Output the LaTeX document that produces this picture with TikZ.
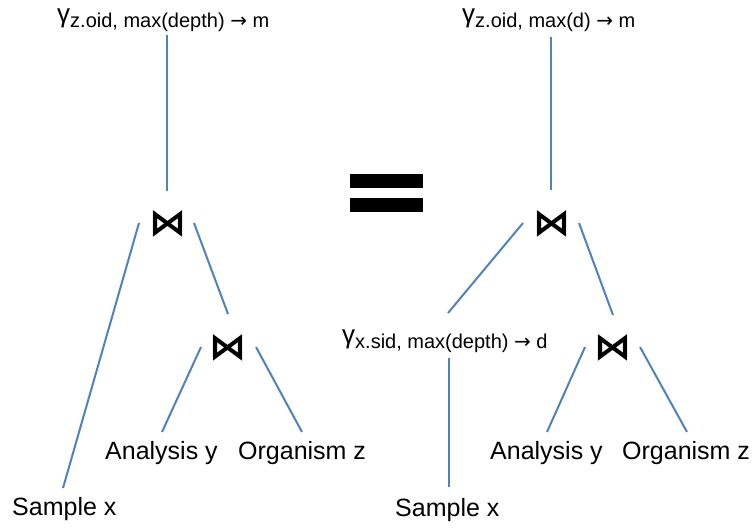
\documentclass[tikz,border=0pt]{standalone}
\usepackage{fontspec}
\setmainfont{Liberation Sans}
\newfontfamily\symfont{DejaVu Sans}
\newcommand{\rarr}{{\symfont →}}
\begin{document}
\begin{tikzpicture}[x=1pt,y=-1pt,
  edge/.style={draw={rgb,255:red,79;green,129;blue,189},line width=2pt},
  leaf/.style={anchor=base west,inner sep=0pt,font=\fontsize{25}{30}\selectfont},
  gam/.style={anchor=base west,inner sep=0pt},
  joinop/.style={inner sep=0pt,font=\symfont\bfseries\fontsize{37}{37}\selectfont}]
\useasboundingbox (0,0) rectangle (754,527);
% labels
\node[gam] (gL) at (57,23) {{\fontsize{26}{28}\selectfont γ}\raisebox{-5pt}{\fontsize{20}{24}\selectfont z.oid, max(depth) \rarr\ m}};
\node[gam] (gR) at (462,23) {{\fontsize{26}{28}\selectfont γ}\raisebox{-5pt}{\fontsize{20}{24}\selectfont z.oid, max(d) \rarr\ m}};
\node[gam] (gX) at (342,343) {{\fontsize{26}{28}\selectfont γ}\raisebox{-5pt}{\fontsize{20}{24}\selectfont x.sid, max(depth) \rarr\ d}};
% joins
\node[joinop] (b1) at (167.5,223.5) {⋈};
\node[joinop] (b2) at (228,348) {⋈};
\node[joinop] (b3) at (551.5,224) {⋈};
\node[joinop] (b4) at (612.5,348) {⋈};
% leaves
\node[leaf] (sL) at (12,515) {Sample x};
\node[leaf] (aL) at (105,459) {Analysis y};
\node[leaf] (oL) at (238,459) {Organism z};
\node[leaf] (sR) at (395,516) {Sample x};
\node[leaf] (aR) at (490,459) {Analysis y};
\node[leaf] (oR) at (622,459) {Organism z};
% equals
\fill (350,174) rectangle (423,188);
\fill (350,198) rectangle (423,212);
% connector ends
\coordinate (gLb) at (167,35);  \coordinate (b1t) at (167,191);
\coordinate (b1l) at (139,223); \coordinate (sLt) at (63,488);
\coordinate (b1r) at (194,223); \coordinate (b2t) at (228,314);
\coordinate (b2l) at (201,347); \coordinate (aLt) at (162,432);
\coordinate (b2r) at (256,347); \coordinate (oLt) at (302,432);
\coordinate (gRb) at (551,37);  \coordinate (b3t) at (551,190);
\coordinate (b3l) at (523,223); \coordinate (gXt) at (448,313);
\coordinate (b3r) at (579,223); \coordinate (b4t) at (613,315);
\coordinate (b4l) at (585,347); \coordinate (aRt) at (547,432);
\coordinate (b4r) at (640,347); \coordinate (oRt) at (687,432);
\coordinate (gXb) at (449,358); \coordinate (sRt) at (449,487);
\draw[edge] (gLb) -- (b1t);
\draw[edge] (b1l) -- (sLt);
\draw[edge] (b1r) -- (b2t);
\draw[edge] (b2l) -- (aLt);
\draw[edge] (b2r) -- (oLt);
\draw[edge] (gRb) -- (b3t);
\draw[edge] (b3l) -- (gXt);
\draw[edge] (b3r) -- (b4t);
\draw[edge] (b4l) -- (aRt);
\draw[edge] (b4r) -- (oRt);
\draw[edge] (gXb) -- (sRt);
\end{tikzpicture}
\end{document}
